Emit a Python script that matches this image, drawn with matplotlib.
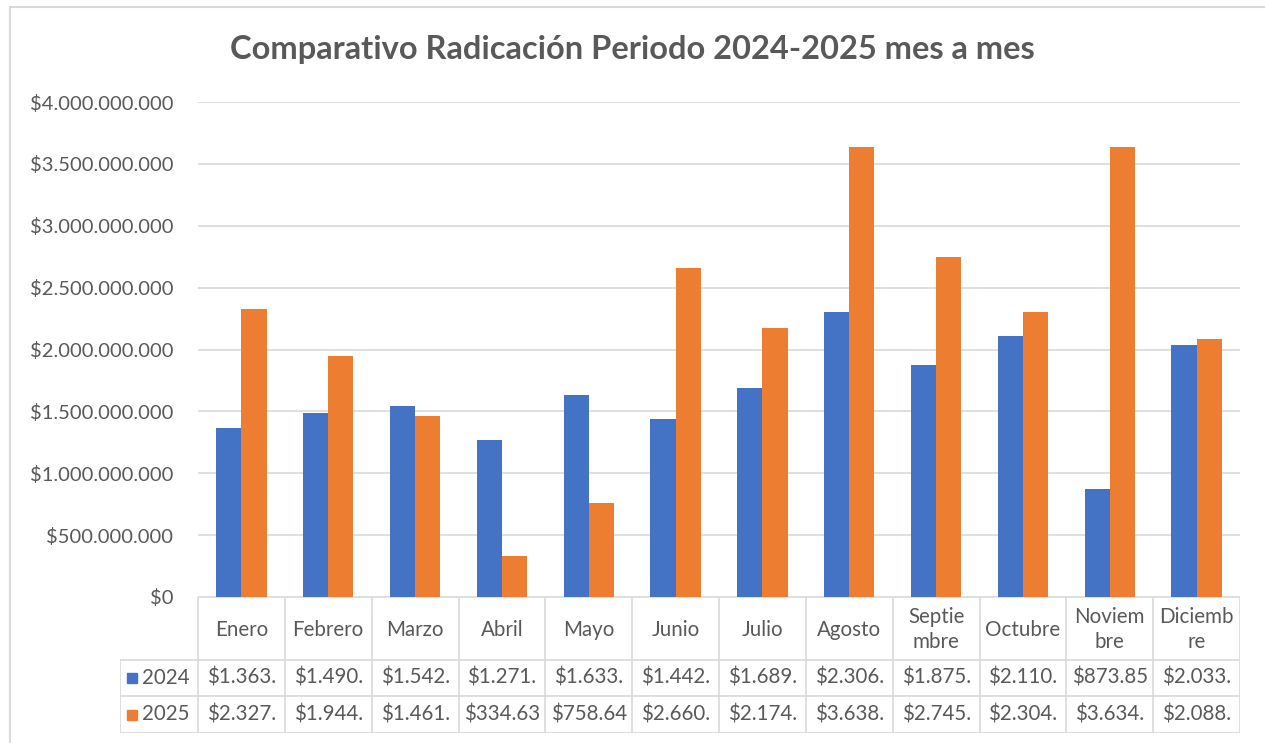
import numpy as np
import matplotlib.pyplot as plt
from matplotlib.patches import Rectangle

plt.rcParams["font.family"] = ["Lato", "DejaVu Sans"]

# ---------------------------------------------------------------------------
# Data
# ---------------------------------------------------------------------------
months = ["Enero", "Febrero", "Marzo", "Abril", "Mayo", "Junio", "Julio",
          "Agosto", "Septie\nmbre", "Octubre", "Noviem\nbre", "Diciemb\nre"]
series_names = ["2024", "2025"]
vals_2024 = [1363000000, 1490000000, 1542000000, 1271000000, 1633000000,
             1442000000, 1689000000, 2306000000, 1875000000, 2110000000,
             873850000, 2033000000]
vals_2025 = [2327000000, 1944000000, 1461000000, 334630000, 758640000,
             2660000000, 2174000000, 3638000000, 2745000000, 2304000000,
             3634000000, 2088000000]

BLUE = "#4472C4"
ORANGE = "#ED7D31"
GRID = "#D9D9D9"
TXT = "#595959"
FS = 14.8

W, H = 1265, 743


def money(v):
    return "$" + f"{int(v):,}".replace(",", ".")


def cell(v):
    # Excel data table truncates the text to the cell width
    return money(v)[:7]


fig = plt.figure(figsize=(W / 100, H / 100), dpi=100)

# chart-area border (right/bottom edges fall outside the crop)
fig.add_artist(Rectangle((10 / W, -0.1), 1.2, 1 - 7 / H + 0.1,
                         transform=fig.transFigure, fill=False,
                         edgecolor=GRID, lw=1.5))

# ---------------------------------------------------------------------------
# Bars
# ---------------------------------------------------------------------------
L, R, B, T = 198, 1240, 597, 102
ax = fig.add_axes([L / W, 1 - B / H, (R - L) / W, (B - T) / H])
x = np.arange(len(months))
bw = 0.29
ax.bar(x - bw / 2, vals_2024, bw, color=BLUE, zorder=3)
ax.bar(x + bw / 2, vals_2025, bw, color=ORANGE, zorder=3)
ax.set_xlim(-0.5, len(months) - 0.5)
ax.set_ylim(0, 4e9)
ax.set_yticks(np.arange(0, 4.01e9, 5e8))
ax.set_yticklabels([money(t) for t in ax.get_yticks()])
ax.yaxis.grid(True, color=GRID, lw=1.2, zorder=0)
ax.set_xticks([])
for s in ax.spines.values():
    s.set_visible(False)
ax.tick_params(axis="y", length=0, pad=18, labelsize=14.5, labelcolor=TXT)

fig.text(0.5, 1 - 50 / H, "Comparativo Radicación Periodo 2024-2025 mes a mes",
         ha="center", va="center", fontsize=23.5, fontweight="bold", color=TXT)

# ---------------------------------------------------------------------------
# Data table under the axis
# ---------------------------------------------------------------------------
TL, TB = 120, 733
unit = (R - L) / len(months)
x_left = -0.5 - (L - TL) / unit
tax = fig.add_axes([TL / W, 1 - TB / H, (R - TL) / W, (TB - B) / H])
tax.set_xlim(x_left, len(months) - 0.5)
tax.set_ylim(TB, B)
tax.axis("off")

r1, r2 = 660, 696
lc = dict(color=GRID, lw=1.2)
tax.plot([-0.5, len(months) - 0.5], [B, B], **lc)
for yy in (r1, r2, TB):
    tax.plot([x_left, len(months) - 0.5], [yy, yy], **lc)
tax.plot([x_left, x_left], [r1, TB], **lc)
for i in range(len(months) + 1):
    tax.plot([i - 0.5, i - 0.5], [B, TB], **lc)

for i, m in enumerate(months):
    tax.text(i, (B + r1) / 2 + 1, m, ha="center", va="center",
             fontsize=FS, color=TXT, linespacing=1.35)
    tax.text(i, (r1 + r2) / 2, cell(vals_2024[i]), ha="center", va="center",
             fontsize=FS, color=TXT)
    tax.text(i, (r2 + TB) / 2, cell(vals_2025[i]), ha="center", va="center",
             fontsize=FS, color=TXT)

for (name, col, y0, y1) in [(series_names[0], BLUE, r1, r2),
                            (series_names[1], ORANGE, r2, TB)]:
    ym = (y0 + y1) / 2
    sq = 10 / unit
    tax.add_patch(Rectangle((x_left + 7 / unit, ym - 5), sq, 10, color=col))
    tax.text(x_left + 22 / unit, ym, name, ha="left", va="center",
             fontsize=FS, color=TXT)

fig.savefig("out.png", dpi=100)
